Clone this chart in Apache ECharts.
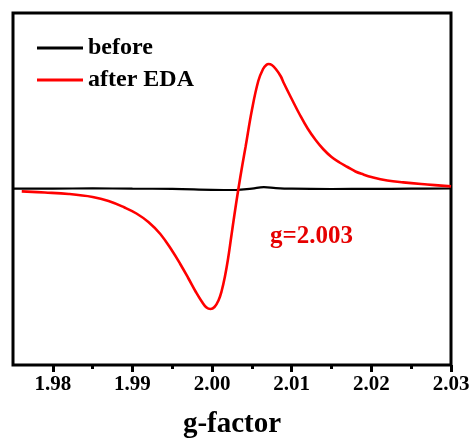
<!DOCTYPE html>
<html>
<head>
<meta charset="utf-8">
<script src="https://cdn.jsdelivr.net/npm/echarts@6/dist/echarts.min.js"></script>
<style>
  html, body { margin: 0; padding: 0; background: #fff; }
  #chart { width: 475px; height: 440px; }
</style>
</head>
<body>
<div id="chart"></div>
<script>
// g-factor tick positions
var majorTicks = [1.98, 1.99, 2.00, 2.01, 2.02, 2.03];
var minorTicks = [1.985, 1.995, 2.005, 2.015, 2.025];

// 处理前 (before)
var beforeData = [
  [1.9751, 0.3], [1.980, 0.4], [1.985, 0.6], [1.990, 0.3], [1.995, 0.1],
  [2.000, -0.8], [2.003, -1.0], [2.005, 0.4], [2.0065, 1.8], [2.008, 0.9],
  [2.010, 0.3], [2.015, 0.0], [2.020, 0.1], [2.025, 0.3], [2.030, 0.5]
];

// EDA 处理后 (after EDA)
var afterData = [
  [1.9761, -2.4], [1.9790, -3.5], [1.9820, -5], [1.9850, -8], [1.9870, -12],
  [1.9890, -18.5], [1.9905, -24.5], [1.9920, -33], [1.9935, -45], [1.9950, -62],
  [1.9960, -75], [1.9970, -89], [1.9980, -103.5], [1.9987, -112.5], [1.9993, -118.5],
  [1.9998, -120], [2.0003, -118], [2.0008, -111.5], [2.0012, -102], [2.0016, -88],
  [2.0020, -70], [2.0024, -48], [2.0028, -26], [2.0033, 0], [2.0038, 24],
  [2.0042, 42], [2.0050, 79], [2.0058, 108], [2.0064, 120], [2.0068, 124],
  [2.0071, 125], [2.0075, 124], [2.0080, 120], [2.0086, 113], [2.0090, 106],
  [2.0100, 90], [2.0110, 74.5], [2.0120, 60.5], [2.0130, 49], [2.0140, 39.5],
  [2.0150, 32], [2.0160, 26.5], [2.0170, 22], [2.0180, 17.5], [2.0190, 14.5],
  [2.0200, 12], [2.0220, 8.5], [2.0240, 6.6], [2.0270, 4.5], [2.0300, 2.6]
];

var serif = "'Liberation Serif', 'Times New Roman', serif";

var chart = echarts.init(document.getElementById("chart"));
chart.setOption({
  animation: false,
  grid: {
    left: 13,
    right: 24,
    top: 13,
    bottom: 75,
    outerBoundsMode: "none",
    show: true,
    borderColor: "#000",
    borderWidth: 3,
    backgroundColor: "transparent"
  },
  legend: {
    orient: "vertical",
    left: 32,
    top: 31,
    itemWidth: 46,
    itemHeight: 3,
    itemGap: 8,
    icon: "rect",
    textStyle: {
      fontFamily: serif,
      fontWeight: "bold",
      fontSize: 24,
      color: "#000"
    },
    data: ["before", "after EDA"]
  },
  title: {
    text: "g=2.003",
    left: 270,
    top: 224,
    padding: 0,
    textStyle: {
      fontFamily: serif,
      fontWeight: "bold",
      fontSize: 25,
      color: "#e60000"
    }
  },
  xAxis: [
    {
      type: "value",
      position: "bottom",
      min: 1.975,
      max: 2.03,
      name: "g-factor",
      nameLocation: "middle",
      nameGap: 45,
      nameTextStyle: {
        fontFamily: serif,
        fontWeight: "bold",
        fontSize: 29,
        color: "#000"
      },
      axisLine: { show: false, onZero: false },
      splitLine: { show: false },
      axisTick: {
        show: true,
        customValues: majorTicks,
        length: 7,
        lineStyle: { color: "#000", width: 3 }
      },
      axisLabel: {
        customValues: majorTicks,
        margin: 9,
        fontFamily: serif,
        fontWeight: "bold",
        fontSize: 21,
        color: "#000",
        formatter: function (v) { return v.toFixed(2); }
      }
    },
    {
      type: "value",
      position: "bottom",
      min: 1.975,
      max: 2.03,
      axisLine: { show: false, onZero: false },
      splitLine: { show: false },
      axisLabel: { show: false },
      axisTick: {
        show: true,
        customValues: minorTicks,
        length: 4,
        lineStyle: { color: "#000", width: 3 }
      }
    }
  ],
  yAxis: {
    type: "value",
    min: -176,
    max: 176,
    axisLine: { show: false },
    axisTick: { show: false },
    axisLabel: { show: false },
    splitLine: { show: false }
  },
  series: [
    {
      name: "before",
      type: "line",
      data: beforeData,
      smooth: 0.4,
      showSymbol: false,
      itemStyle: { color: "#000" },
      lineStyle: { color: "#000", width: 2.2 },
      z: 3
    },
    {
      name: "after EDA",
      type: "line",
      data: afterData,
      smooth: 0.4,
      showSymbol: false,
      itemStyle: { color: "#ff0000" },
      lineStyle: { color: "#ff0000", width: 2.6 },
      z: 4
    }
  ]
});
</script>
</body>
</html>
